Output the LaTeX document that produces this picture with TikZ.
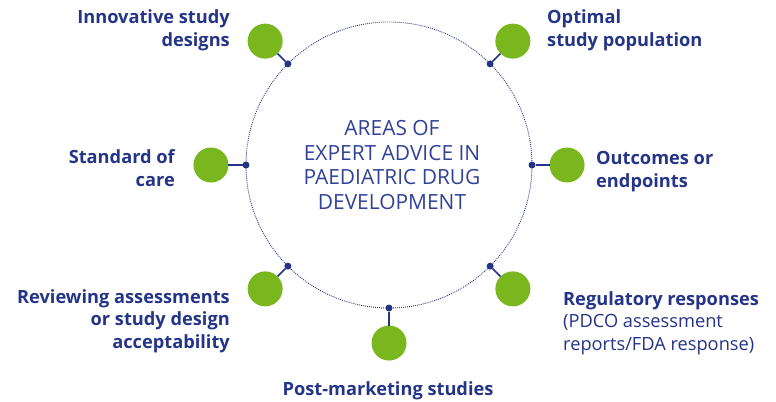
\documentclass[tikz,border=0pt]{standalone}
\usepackage{fontspec}
\setmainfont{Open Sans}
\usetikzlibrary{calc}
\definecolor{navy}{RGB}{36,52,135}
\definecolor{ctxt}{RGB}{48,66,152}
\definecolor{leaf}{RGB}{122,182,30}
\tikzset{
  ring/.style={circle, draw=navy, line width=0.9bp, dash pattern=on 0.9bp off 1.1bp, minimum size=286bp, inner sep=0pt, outer sep=0pt},
  dot/.style={circle, fill=navy, minimum size=7bp, inner sep=0pt, outer sep=0pt},
  ball/.style={circle, fill=leaf, minimum size=35bp, inner sep=0pt, outer sep=0pt},
  conn/.style={draw=navy, line width=1.6bp},
  lbl/.style={text=navy, font=\fontsize{18.3}{22.5}\selectfont\bfseries, inner sep=0pt},
  centertext/.style={text=ctxt, font=\fontsize{21}{25}\selectfont, align=center, inner sep=0pt}
}
\begin{document}
\begin{tikzpicture}[x=1bp,y=-1bp]
\useasboundingbox (0,0) rectangle (776,401);
\node[ring] (ring) at (389,165) {};
\node[centertext] (title) at (392,165) {AREAS OF\\EXPERT ADVICE IN\\PAEDIATRIC DRUG\\DEVELOPMENT};
% dots on the ring
\node[dot] (d1) at (ring.135) {};
\node[dot] (d2) at (ring.45) {};
\node[dot] (d3) at (ring.180) {};
\node[dot] (d4) at (ring.0) {};
\node[dot] (d5) at (ring.225) {};
\node[dot] (d6) at (ring.315) {};
\node[dot] (d7) at (ring.270) {};
% green balls
\node[ball] (g1) at ($(ring.center)!1.225!(d1)$) {};
\node[ball] (g2) at ($(ring.center)!1.225!(d2)$) {};
\node[ball] (g3) at ($(ring.center)!1.245!(d3)$) {};
\node[ball] (g4) at ($(ring.center)!1.245!(d4)$) {};
\node[ball] (g5) at ($(ring.center)!1.225!(d5)$) {};
\node[ball] (g6) at ($(ring.center)!1.225!(d6)$) {};
\node[ball] (g7) at ($(ring.center)!1.245!(d7)$) {};
\foreach \i in {1,...,7} { \draw[conn] (d\i) -- (g\i); }
% labels (base anchor = baseline of last line)
\node[lbl, align=right, anchor=base east] (l1) at (230,46) {Innovative study\\designs};
\node[lbl, align=left, anchor=base west] (l2) at (547,46) {Optimal\\study population};
\node[lbl, align=right, anchor=base east] (l3) at (175,186) {Standard of\\care};
\node[lbl, align=left, anchor=base west] (l4) at (596,187) {Outcomes or\\endpoints};
\node[lbl, align=right, anchor=base east] (l5) at (230,348) {Reviewing assessments\\or study design\\acceptability};
\node[lbl, align=left, anchor=base west] (l6) at (563,350) {Regulatory responses\\{\mdseries (PDCO assessment}\\{\mdseries reports/FDA response)}};
\node[lbl, anchor=base] (l7) at (388,395) {Post-marketing studies};
\end{tikzpicture}
\end{document}
